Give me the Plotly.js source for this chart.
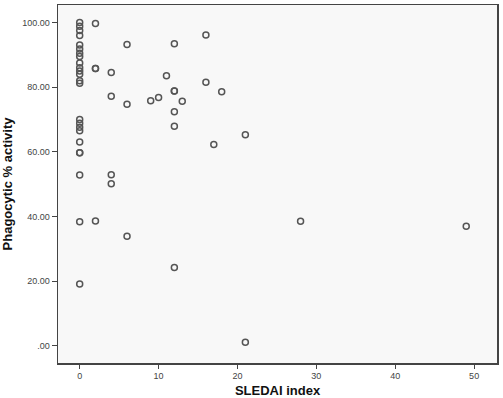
<!DOCTYPE html>
<html>
<head>
<meta charset="utf-8">
<script src="https://cdn.plot.ly/plotly-3.0.1.min.js"></script>
<style>html,body{margin:0;padding:0;background:#fff;}#chart{width:503px;height:398px;}</style>
</head>
<body>
<div id="chart"></div>
<script>
// SLEDAI index values
const sledai = [
  0,0,0,0,0,0,0,0,0,0,0,0,0,0,0,0,0,0,0,0,0,0,0,0,
  2,2,2,2,
  4,4,4,4,
  6,6,6,
  9,10,11,
  12,12,12,12,12,12,
  13,16,16,17,18,21,21,28,49
];
// Phagocytic % activity values
const phagocytic = [
  100,98.8,97.5,96,93,91.8,90.5,89.5,87.5,86,85,84,82,81.2,70,68.8,67.6,66.5,63,59.7,59.7,52.8,38.4,19.1,
  99.7,85.8,85.8,38.6,
  84.5,77.2,52.9,50.1,
  93.2,74.7,33.9,
  75.8,76.8,83.5,
  93.4,78.8,78.8,72.4,67.9,24.2,
  75.6,96.1,81.5,62.3,78.6,65.3,1.1,38.5,37.0
];
const xTicks = [0,10,20,30,40,50];
const xTickText = ['0','10','20','30','40','50'];
const yTicks = [0,20,40,60,80,100];
const yTickText = ['.00','20.00','40.00','60.00','80.00','100.00'];

const trace = {
  x: sledai, y: phagocytic, type: 'scatter', mode: 'markers',
  marker: {symbol: 'circle-open', size: 6, color: '#555', line: {width: 1.5, color: '#555'}},
  hoverinfo: 'x+y'
};
const layout = {
  width: 503, height: 398,
  paper_bgcolor: '#ffffff', plot_bgcolor: '#f8f8f8',
  margin: {l: 58, r: 6, t: 5, b: 35},
  showlegend: false,
  font: {family: '"Liberation Sans", Arial, sans-serif', color: '#444'},
  xaxis: {
    range: [-2.75, 52.9], tickvals: xTicks, ticktext: xTickText,
    showgrid: false, zeroline: false, showline: true, mirror: true,
    linecolor: '#444', linewidth: 1.5, ticks: 'outside', ticklen: 4, tickcolor: '#444', tickwidth: 1,
    tickfont: {size: 9, color: '#444'},
    title: {text: 'SLEDAI index', font: {size: 13, color: '#111', family: '"Liberation Sans", Arial, sans-serif', weight: 'bold'}, standoff: 10}
  },
  yaxis: {
    range: [-5.3, 105.4], tickvals: yTicks, ticktext: yTickText,
    showgrid: false, zeroline: false, showline: true, mirror: true,
    linecolor: '#444', linewidth: 1.5, ticks: 'outside', ticklen: 5, tickcolor: '#444', tickwidth: 1,
    tickfont: {size: 9, color: '#444'},
    title: {text: 'Phagocytic % activity', font: {size: 13, color: '#111', family: '"Liberation Sans", Arial, sans-serif', weight: 'bold'}, standoff: 8}
  }
};
Plotly.newPlot('chart', [trace], layout, {displayModeBar: false, staticPlot: true});
</script>
</body>
</html>
